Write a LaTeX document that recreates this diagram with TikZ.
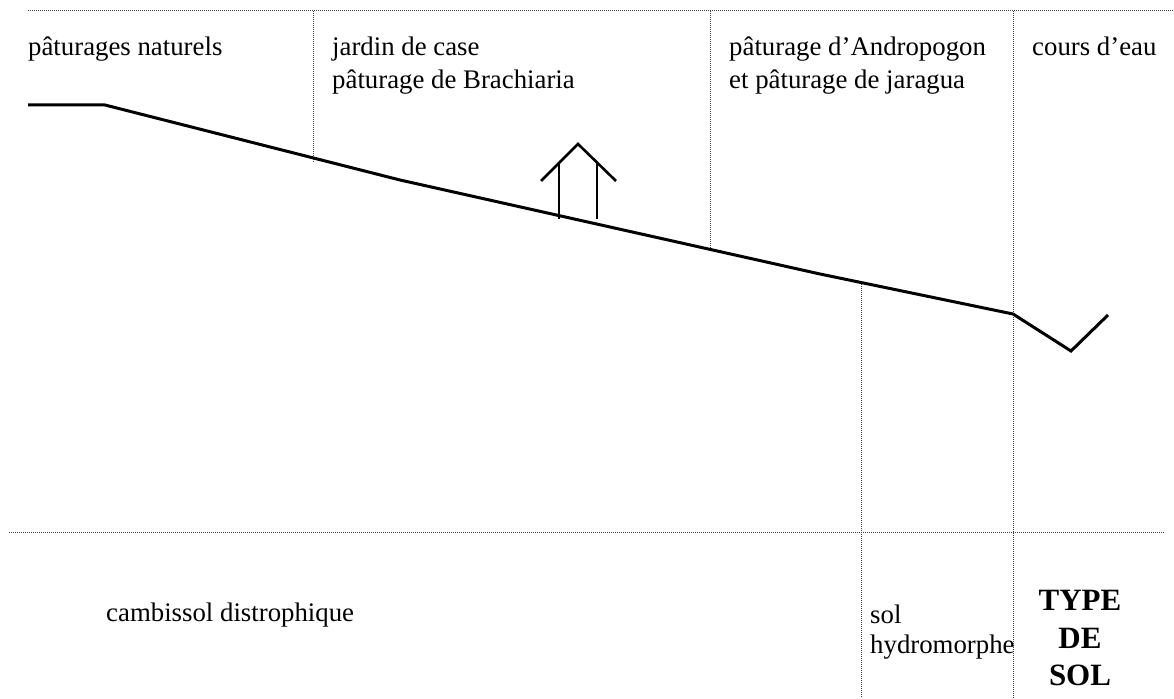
\documentclass[tikz,border=0pt]{standalone}
\usepackage{fontspec}
\setmainfont{Liberation Serif}
\begin{document}
\begin{tikzpicture}[x=1pt,y=-1pt,
  lbl/.style={anchor=base west,inner sep=0pt,font=\fontsize{26.8}{32}\selectfont},
  blbl/.style={anchor=base,inner sep=0pt,font=\fontsize{31}{37}\selectfont\bfseries},
  grid/.style={line width=1pt,black!75,dash pattern=on 1pt off 1pt},
  ground/.style={line width=3pt,line join=miter},
  house/.style={line width=2.6pt,line join=miter}]
\useasboundingbox (0,0) rectangle (1174,698);
% dotted frame lines
\draw[grid] (28,11) -- (1173,11);
\draw[grid] (9,532) -- (1165,532);
\draw[grid] (313,11) -- (313,162);
\draw[grid] (710,11) -- (710,248);
\draw[grid] (1013,11) -- (1013,698);
\draw[grid] (861,284) -- (861,698);
% ground profile
\coordinate (g0) at (28,105);
\coordinate (g1) at (105,105);
\coordinate (g2) at (400,180);
\coordinate (g3) at (820,274);
\coordinate (g4) at (1013,314);
\coordinate (g5) at (1071,351);
\coordinate (g6) at (1108,315);
\draw[ground] (g0) -- (g1) -- (g2) -- (g3) -- (g4) -- (g5) -- (g6);
% house
\coordinate (hl) at (541,181);
\coordinate (ha) at (578,144);
\coordinate (hr) at (616,181);
\draw[house] (hl) -- (ha) -- (hr);
\draw[house] (559,163) -- (559,219);
\draw[house] (597,163) -- (597,219);
% labels
\node[lbl] (t1) at (28,56) {pâturages naturels};
\node[lbl] (t2a) at (332,56) {jardin de case};
\node[lbl] (t2b) at (332,89) {pâturage de Brachiaria};
\node[lbl] (t3a) at (729,56) {pâturage d’Andropogon};
\node[lbl] (t3b) at (729,89) {et pâturage de jaragua};
\node[lbl] (t4) at (1032,56) {cours d’eau};
\node[lbl] (s1) at (106,621) {cambissol distrophique};
\node[lbl] (s2a) at (870,623) {sol};
\node[lbl] (s2b) at (870,653) {hydromorphe};
\node[blbl] (ty1) at (1080,610) {TYPE};
\node[blbl] (ty2) at (1080,648) {DE};
\node[blbl] (ty3) at (1080,685) {SOL};
\end{tikzpicture}
\end{document}
